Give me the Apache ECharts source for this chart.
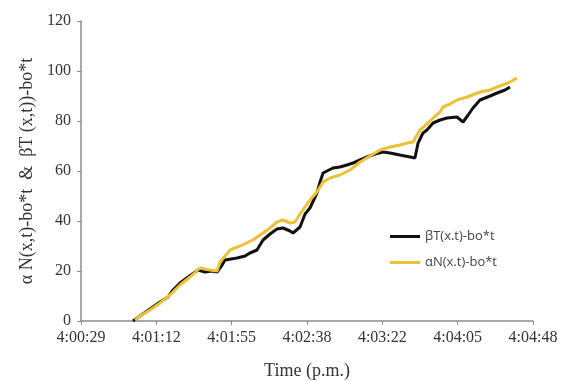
<!DOCTYPE html>
<html>
<head>
<meta charset="utf-8">
<script src="https://cdn.jsdelivr.net/npm/echarts@6/dist/echarts.min.js"></script>
<style>html,body{margin:0;padding:0;background:#fff}#c{width:563px;height:381px}</style>
</head>
<body>
<div id="c"></div>
<script>
// x values: seconds after 4:00:28.8 p.m.
const tickLabels = ["4:00:29","4:01:12","4:01:55","4:02:38","4:03:22","4:04:05","4:04:48"];
const betaT_t = [29.8,33.8,39.6,45.3,49.9,52.2,56.8,61.4,67.1,71.1,75.1,78.0,80.9,82.6,89.5,94.1,96.9,100.9,104.4,108.4,112.4,115.8,119.9,121.6,125.6,128.5,131.3,135.3,137.1,138.8,144.5,148.5,152.5,156.0,160.0,164.0,168.6,173.2,177.2,182.9,188.7,191.5,193.3,196.1,198.4,201.9,205.9,209.9,215.6,219.1,222.0,224.8,228.8,234.6,238.6,243.2,246.0];
const betaT_v = [0,2,4.8,7.6,9.6,12,15.2,17.6,20.4,19.6,20,19.6,22.4,24.4,25.2,26,27.2,28.4,32.4,34.8,36.8,37.2,36,35.2,37.6,42.8,45.2,51.2,55.6,59.2,61.2,61.6,62.4,63.2,64.4,65.6,66.8,67.6,67.2,66.4,65.6,65.2,71.2,75.2,76.4,79.2,80.4,81.2,81.6,79.6,82.4,85.2,88.4,90,91.2,92.4,93.6];
const alphaN_t = [31.0,33.8,39.6,45.3,51.0,56.8,62.5,68.2,74.0,78.0,79.7,85.5,91.2,98.6,104.4,108.4,112.4,115.8,119.9,122.7,125.6,131.3,135.3,138.8,142.8,148.5,154.3,160.0,165.7,171.5,177.2,182.9,187.0,190.4,194.4,198.4,201.9,205.9,207.6,211.6,215.6,221.4,228.8,234.6,238.6,243.2,246.0,250.0];
const alphaN_v = [0.4,2,4.4,7.2,10.4,14.4,17.6,21.2,20.4,20,23.6,28.4,30,32.4,35.2,37.2,39.6,40.4,39.2,39.6,42.8,48.4,51.6,55.6,57.2,58.4,60.4,63.6,66,68.4,69.6,70.4,71.2,71.6,76.4,78.8,81.2,83.6,85.6,86.8,88.4,89.6,91.6,92.4,93.6,94.8,95.6,97.2];
const seriesNames = ["βT(x.t)-bo*t","αN(x.t)-bo*t"];
const yTitle = "α N(x,t)-bo*t  &  βT (x,t))-bo*t";
const xTitle = "Time (p.m.)";

const pair = (a,b) => a.map((v,i)=>[v,b[i]]);
const chart = echarts.init(document.getElementById('c'), null, {renderer:'canvas'});
const serif = 'Liberation Serif';
chart.setOption({
  animation:false,
  backgroundColor:'#fff',
  grid:{left:81,right:30,top:21,bottom:60,containLabel:false,outerBoundsMode:'none'},
  legend:{
    orient:'vertical', left:385, top:225, itemGap:13,
    itemWidth:30, itemHeight:3, icon:'rect',
    textStyle:{fontFamily:'Open Sans', fontSize:13, color:'#444'},
    data:seriesNames
  },
  xAxis:{
    type:'value', min:0, max:259.2, interval:43.2,
    name:xTitle, nameLocation:'middle', nameGap:41,
    nameTextStyle:{fontFamily:serif, fontSize:18, color:'#333'},
    axisLine:{lineStyle:{color:'#8c8c8c', width:1.5}},
    axisTick:{show:true, inside:false, length:4, lineStyle:{color:'#8c8c8c'}},
    splitLine:{show:false},
    axisLabel:{fontFamily:serif, fontSize:16, color:'#333', margin:9,
      formatter:(v)=>tickLabels[Math.round(v/43.2)]||''}
  },
  yAxis:{
    type:'value', min:0, max:120, interval:20,
    name:yTitle, nameLocation:'middle', nameGap:45, nameRotate:90,
    nameTextStyle:{fontFamily:serif, fontSize:18, color:'#333'},
    axisLine:{show:true, lineStyle:{color:'#8c8c8c', width:1.5}},
    axisTick:{show:true, length:4, lineStyle:{color:'#8c8c8c'}},
    splitLine:{show:false},
    axisLabel:{fontFamily:serif, fontSize:16, color:'#333', margin:10}
  },
  series:[
    {name:seriesNames[0], type:'line', data:pair(betaT_t,betaT_v), showSymbol:false,
     itemStyle:{color:'#111'}, lineStyle:{color:'#111', width:3}},
    {name:seriesNames[1], type:'line', data:pair(alphaN_t,alphaN_v), showSymbol:false,
     itemStyle:{color:'#EDC136'}, lineStyle:{color:'#EDC136', width:3}}
  ]
});
</script>
</body>
</html>
